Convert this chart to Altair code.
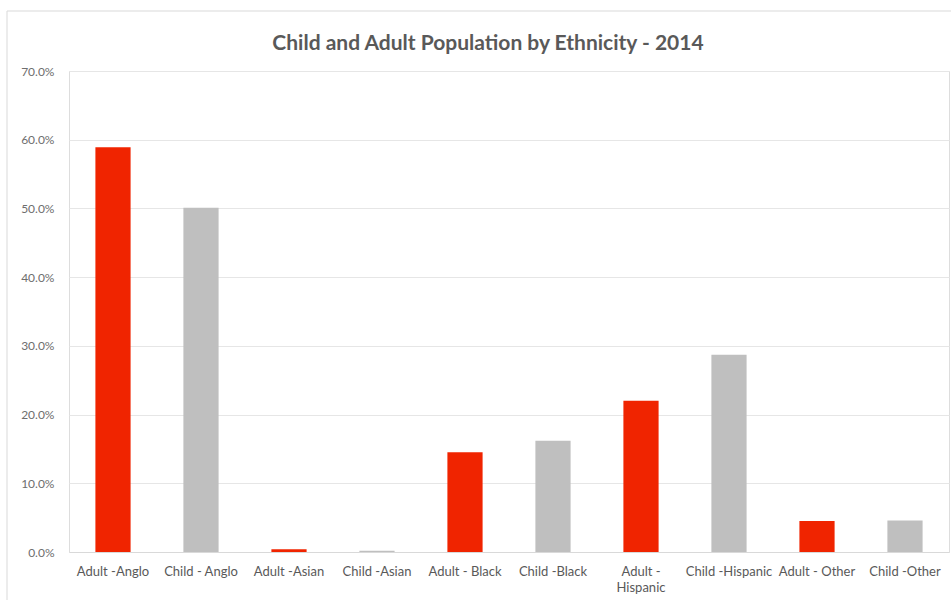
import altair as alt
import pandas as pd

# Population share by ethnicity, adults vs. children (2014)
categories = [
    "Adult -Anglo", "Child - Anglo", "Adult  -Asian", "Child  -Asian",
    "Adult - Black", "Child -Black", "Adult - Hispanic", "Child -Hispanic",
    "Adult - Other", "Child  -Other",
]
groups = ["Adult", "Child", "Adult", "Child", "Adult",
          "Child", "Adult", "Child", "Adult", "Child"]
shares = [0.589, 0.501, 0.004, 0.002, 0.145, 0.162, 0.220, 0.287, 0.045, 0.046]

group_colors = {"Adult": "#F02400", "Child": "#BFBFBF"}

df = pd.DataFrame({"category": categories, "group": groups, "share": shares})

FONT = "Lato"
TEXT = "#595959"

bars = alt.Chart(df).mark_bar().encode(
    x=alt.X(
        "category:N",
        sort=categories,
        title=None,
        scale=alt.Scale(paddingInner=0.6, paddingOuter=0.3),
        axis=alt.Axis(
            labelAngle=0,
            ticks=False,
            domain=True,
            domainColor="#D9D9D9",
            labelColor=TEXT,
            labelFont=FONT,
            labelFontSize=13,
            labelPadding=13,
            labelLineHeight=16,
            labelExpr="datum.label == 'Adult - Hispanic' ? ['Adult -', 'Hispanic'] : datum.label",
        ),
    ),
    y=alt.Y(
        "share:Q",
        title=None,
        scale=alt.Scale(domain=[0, 0.7], nice=False),
        axis=alt.Axis(
            format=".1%",
            values=[0, 0.1, 0.2, 0.3, 0.4, 0.5, 0.6, 0.7],
            domain=False,
            ticks=False,
            grid=True,
            gridColor="#E6E6E6",
            labelColor="#6E6E6E",
            labelFont=FONT,
            labelFontSize=12,
            labelPadding=15,
        ),
    ),
    color=alt.Color(
        "group:N",
        scale=alt.Scale(domain=list(group_colors), range=list(group_colors.values())),
        legend=None,
    ),
)

# Light outline around the chart area (left and top edges)
frame_left = alt.Chart(alt.Data(values=[{}])).mark_rule(
    color="#D9D9D9", strokeWidth=1
).encode(x=alt.value(-62), y=alt.value(-60), y2=alt.value(529))
frame_top = alt.Chart(alt.Data(values=[{}])).mark_rule(
    color="#D9D9D9", strokeWidth=1
).encode(x=alt.value(-62), x2=alt.value(882), y=alt.value(-60))

chart = alt.layer(frame_left, frame_top, bars).properties(
    width=880,
    height=481,
    autosize="none",
    padding={"left": 69, "top": 71, "right": 2, "bottom": 48},
    title=alt.TitleParams(
        "Child and Adult Population by Ethnicity - 2014",
        font=FONT,
        fontSize=21,
        fontWeight="bold",
        color=TEXT,
        anchor="middle",
        dx=-21,
        offset=-43,
    ),
).configure_view(stroke=None).configure(background="white")

chart.save("out.html", embed_options={"renderer": "svg", "actions": False})
